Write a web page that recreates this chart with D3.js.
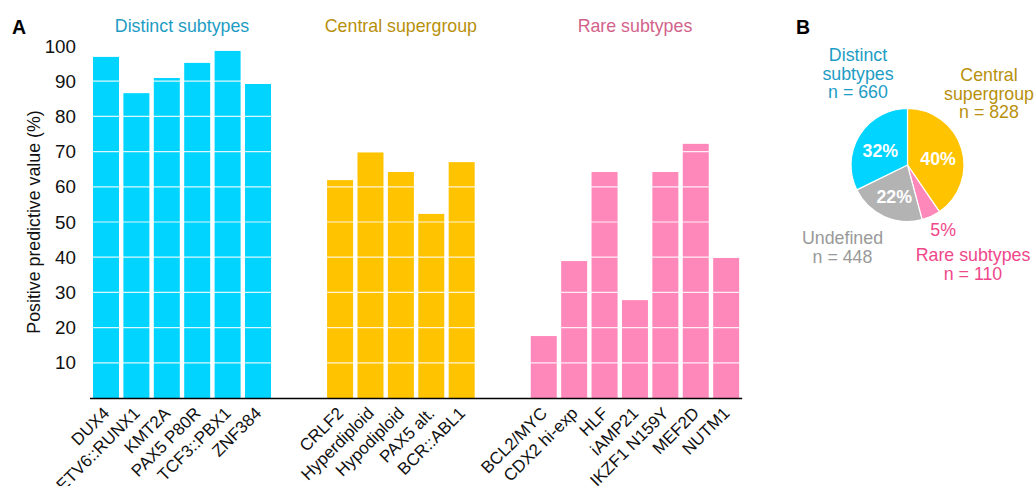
<!DOCTYPE html>
<html>
<head>
<meta charset="utf-8">
<script src="https://cdn.jsdelivr.net/npm/d3@7"></script>
<style>
  body { margin: 0; background: #fff; }
  svg text { font-family: "Liberation Sans", Arial, Helvetica, sans-serif; }
</style>
</head>
<body>
<svg id="chart" width="1035" height="486"></svg>
<script>
// Positive predictive value (%) per subtype, split into three groups
const groupNames = ["Distinct subtypes", "Central supergroup", "Rare subtypes"];
const distinctSubtypes = ["DUX4", "ETV6::RUNX1", "KMT2A", "PAX5 P80R", "TCF3::PBX1", "ZNF384"];
const distinctPPV = [96.9, 86.6, 90.9, 95.2, 98.6, 89.2];
const centralSubtypes = ["CRLF2", "Hyperdiploid", "Hypodiploid", "PAX5 alt.", "BCR::ABL1"];
const centralPPV = [61.9, 69.8, 64.2, 52.3, 67.0];
const rareSubtypes = ["BCL2/MYC", "CDX2 hi-exp", "HLF", "iAMP21", "IKZF1 N159Y", "MEF2D", "NUTM1"];
const rarePPV = [17.6, 38.9, 64.2, 27.8, 64.2, 72.2, 39.8];
const yTicks = [10, 20, 30, 40, 50, 60, 70, 80, 90, 100];

// Cohort composition shown in the pie (clockwise from 12 o'clock)
const pieLabels = ["Central supergroup", "Rare subtypes", "Undefined", "Distinct subtypes"];
const pieCounts = [828, 110, 448, 660];

const barColors = ["#00d4ff", "#ffc300", "#ff88bb"];
const titleColors = ["#1d9cc4", "#b8900c", "#d2628a"];
const pieColors = { "Central supergroup": "#ffc300", "Rare subtypes": "#ff88bb", "Undefined": "#b3b3b3", "Distinct subtypes": "#00d4ff" };

const FS = 17.8;
const svg = d3.select("#chart");

// ---------- Panel A: bar chart ----------
const groupsData = [
  { name: groupNames[0], cats: distinctSubtypes, vals: distinctPPV },
  { name: groupNames[1], cats: centralSubtypes, vals: centralPPV },
  { name: groupNames[2], cats: rareSubtypes, vals: rarePPV }
];

// Flatten into bars with a slot position; groups are separated by an extra gap
const groupGap = 1.7;
const bars = [];
let slot = 0;
groupsData.forEach((g, gi) => {
  g.cats.forEach((c, i) => {
    bars.push({ cat: c, val: g.vals[i], group: gi, pos: slot + gi * groupGap });
    slot++;
  });
});
const lastPos = d3.max(bars, d => d.pos);

const step = 30.4, barW = 26;
const x = d3.scaleLinear().domain([0, lastPos]).range([93, 93 + lastPos * step]);
const y = d3.scaleLinear().domain([0, 100]).range([398, 46]);

const gA = svg.append("g");

// bars
gA.selectAll("rect.bar").data(bars).join("rect")
  .attr("class", "bar")
  .attr("x", d => x(d.pos))
  .attr("width", barW)
  .attr("y", d => y(d.val))
  .attr("height", d => y(0) - y(d.val))
  .attr("fill", d => barColors[d.group]);

// white gridlines drawn over the bars
gA.selectAll("line.grid").data(yTicks).join("line")
  .attr("class", "grid")
  .attr("x1", x(0) - 3).attr("x2", x(lastPos) + barW + 3)
  .attr("y1", d => y(d)).attr("y2", d => y(d))
  .attr("stroke", "#fff").attr("stroke-opacity", 0.85).attr("stroke-width", 1.2);

// y axis (labels only)
const yAxis = d3.axisLeft(y).tickValues(yTicks).tickSize(0).tickPadding(0);
const yG = gA.append("g").attr("transform", "translate(76,0)").call(yAxis);
yG.select(".domain").remove();
yG.selectAll("text").attr("font-size", 18.8).attr("fill", "#111")
  .attr("font-family", "Liberation Sans, Arial, sans-serif");

// x baseline
gA.append("line")
  .attr("x1", x(0) - 3).attr("x2", x(lastPos) + barW + 3)
  .attr("y1", y(0) + 0.5).attr("y2", y(0) + 0.5)
  .attr("stroke", "#000").attr("stroke-width", 1.5);

// rotated category labels
gA.selectAll("text.xlab").data(bars).join("text")
  .attr("class", "xlab")
  .attr("transform", d => `translate(${x(d.pos) + barW / 2 - 4},${y(0) + 8}) rotate(-45)`)
  .attr("text-anchor", "end")
  .attr("dy", "0.7em")
  .attr("font-size", 17)
  .attr("fill", "#111")
  .text(d => d.cat);

// group titles
gA.selectAll("text.gtitle").data(groupsData).join("text")
  .attr("class", "gtitle")
  .attr("x", (g, gi) => {
    const gb = bars.filter(b => b.group === gi);
    return (x(gb[0].pos) + x(gb[gb.length - 1].pos) + barW) / 2;
  })
  .attr("y", 32)
  .attr("text-anchor", "middle")
  .attr("font-size", FS)
  .attr("fill", (g, gi) => titleColors[gi])
  .text(g => g.name);

// y axis title
gA.append("text")
  .attr("transform", "translate(40,222) rotate(-90)")
  .attr("text-anchor", "middle")
  .attr("font-size", FS)
  .attr("fill", "#111")
  .text("Positive predictive value (%)");

// panel letter
svg.append("text").attr("x", 12).attr("y", 34)
  .attr("font-size", 19.5).attr("font-weight", "bold").attr("fill", "#000").text("A");

// ---------- Panel B: pie chart ----------
svg.append("text").attr("x", 796).attr("y", 34)
  .attr("font-size", 19.5).attr("font-weight", "bold").attr("fill", "#000").text("B");

const cx = 907.5, cy = 165, r = 56.5;
const total = d3.sum(pieCounts);
const pieData = d3.pie().sort(null).value(d => d.n)(pieLabels.map((l, i) => ({ label: l, n: pieCounts[i] })));
const arc = d3.arc().innerRadius(0).outerRadius(r);
const gB = svg.append("g").attr("transform", `translate(${cx},${cy})`);

gB.selectAll("path").data(pieData).join("path")
  .attr("d", arc)
  .attr("fill", d => pieColors[d.data.label])
  .attr("stroke", "#fff").attr("stroke-width", 1.2);

const pct = d => Math.round(d.data.n / total * 100) + "%";
const isSmall = d => d.data.n / total < 0.1;
const inner = d3.arc().innerRadius(32).outerRadius(32);
const outerArc = d3.arc().innerRadius(71).outerRadius(71);
gB.selectAll("text.pct").data(pieData).join("text")
  .attr("class", "pct")
  .attr("transform", d => {
    const c = (isSmall(d) ? outerArc : inner).centroid(d);
    return isSmall(d) ? `translate(${c[0] + 6},${c[1]})` : `translate(${c[0]},${c[1] + 3})`;
  })
  .attr("text-anchor", "middle")
  .attr("dominant-baseline", "central")
  .attr("font-size", FS)
  .attr("font-weight", d => isSmall(d) ? "normal" : "bold")
  .attr("fill", d => isSmall(d) ? "#f0478a" : "#fff")
  .text(pct);

// outer group labels with counts
const outerLabels = [
  { lines: ["Distinct", "subtypes", "n = " + pieCounts[3]], x: 858, y: 61, color: "#1d9cc4" },
  { lines: ["Central", "supergroup", "n = " + pieCounts[0]], x: 989, y: 81, color: "#b8900c" },
  { lines: ["Undefined", "n = " + pieCounts[2]], x: 842.5, y: 244, color: "#999999" },
  { lines: ["Rare subtypes", "n = " + pieCounts[1]], x: 973, y: 261, color: "#f0478a" }
];
outerLabels.forEach(o => {
  const t = svg.append("text").attr("x", o.x).attr("y", o.y)
    .attr("text-anchor", "middle").attr("font-size", FS).attr("fill", o.color);
  o.lines.forEach((ln, i) => {
    t.append("tspan").attr("x", o.x).attr("dy", i === 0 ? 0 : 18.5).text(ln);
  });
});
</script>
</body>
</html>
